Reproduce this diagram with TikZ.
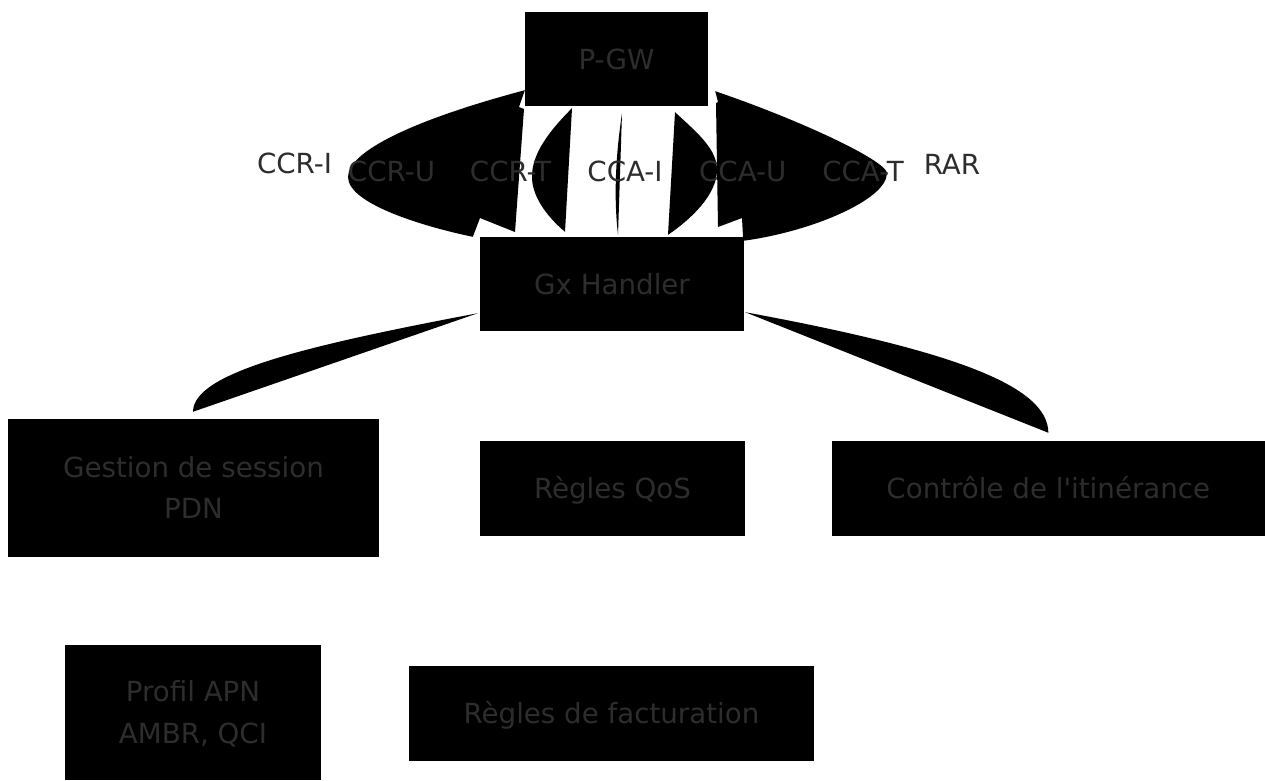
\documentclass[tikz,border=0pt]{standalone}
\usepackage{fontspec}
\setmainfont{DejaVu Sans}[Ligatures=TeXOff]
\usetikzlibrary{calc}
\definecolor{txtgray}{HTML}{2D2D30}
\begin{document}
\begin{tikzpicture}[x=1pt,y=-1pt,
  txtfont/.style={font=\fontsize{27.7}{41.3}\selectfont},
  box/.style={draw=none, fill=black, inner sep=0pt, text=txtgray, align=center, txtfont, text height=20.2pt, text depth=0pt},
  twoline/.style={text height=61.5pt, text depth=0pt},
  elabel/.style={inner sep=0pt, text=txtgray, txtfont, text height=20.2pt, text depth=0pt},
  conn/.style={fill=black, draw=none}]
\fill[white] (0,0) rectangle (1265,780);
\useasboundingbox (0,0) rectangle (1265,780);

% nodes
\node[box, minimum width=183pt, minimum height=94pt] (pgw) at (616.5,59) {P-GW};
\node[box, minimum width=264pt, minimum height=94pt] (gx) at (612,284) {Gx Handler};
\node[box, twoline, minimum width=371pt, minimum height=137.7pt] (gest) at (193.5,487.8) {Gestion de session\\PDN};
\node[box, minimum width=265pt, minimum height=94.7pt] (qos) at (612.5,488.3) {Règles QoS};
\node[box, minimum width=433.3pt, minimum height=94.7pt] (roam) at (1048.35,488.3) {Contrôle de l'itinérance};
\node[box, twoline, minimum width=256pt, minimum height=135pt] (apn) at (193,712.5) {Profil APN\\AMBR, QCI};
\node[box, minimum width=405pt, minimum height=94.7pt] (fact) at (611.5,713.3) {Règles de facturation};

% connectors (filled, as in the reference)
\fill[conn] ($(pgw.south west)+(0,-16)$) .. controls (420,118) and (348,150) .. (348,177)
  .. controls (348,205) and (430,228) .. ($(gx.north west)+(-7,0)$)
  -- (480,218) -- (515,232) -- (524,109) -- (519,107) -- cycle;
\fill[conn] ($(pgw.south east)+(7,-15)$) .. controls (800,120) and (885,160) .. (887,173)
  .. controls (887,200) and (810,232) .. ($(gx.north east)+(-1,4)$)
  -- (742,218) -- (718,227) -- (716,103) -- (718,102) -- cycle;
\fill[conn] ($(pgw.south)+(-44.5,2)$) .. controls (540,140) and (532,160) .. (532,177)
  .. controls (532,195) and (545,215) .. ($(gx.north)+(-47,-5)$) -- cycle;
\fill[conn] ($(pgw.south)+(5.5,7)$) .. controls (615,160) and (614,200) .. ($(gx.north)+(6,-2)$) -- cycle;
\fill[conn] ($(pgw.south)+(58.5,6)$) .. controls (700,135) and (717,150) .. (717,170)
  .. controls (717,195) and (690,220) .. ($(gx.north)+(56,-2)$) -- cycle;
\fill[conn] ($(gx.south west)+(-2,-18)$) .. controls (310,345) and (193,372) .. ($(gest.north)+(-0.5,-7)$) -- cycle;
\fill[conn] ($(gx.south east)+(1,-19)$) .. controls (950,350) and (1048,385) .. ($(roam.north)+(0,-8)$) -- cycle;

% edge labels
\node[elabel] (lccri) at (294.5,163) {CCR-I};
\node[elabel] (lccru) at (391.5,171) {CCR-U};
\node[elabel] (lccrt) at (510.5,171) {CCR-T};
\node[elabel] (lccai) at (625,171) {CCA-I};
\node[elabel] (lccau) at (742.8,171) {CCA-U};
\node[elabel] (lccat) at (863,171) {CCA-T};
\node[elabel] (lrar) at (952,164) {RAR};
\end{tikzpicture}
\end{document}
